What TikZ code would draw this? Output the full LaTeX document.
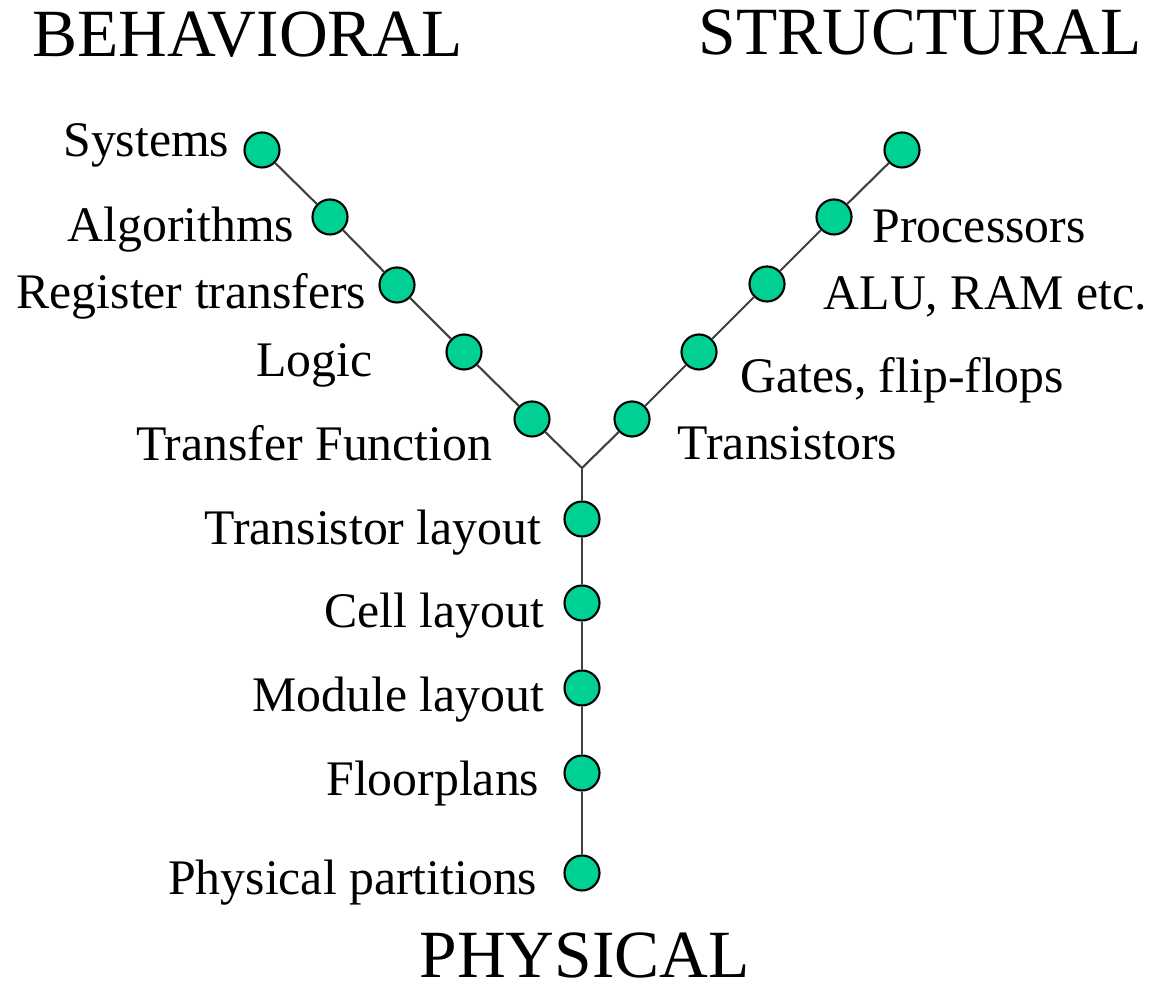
\documentclass[tikz,border=0pt]{standalone}
\usepackage{fontspec}
\setmainfont{Liberation Serif}
\definecolor{dotgreen}{RGB}{0,208,148}
\definecolor{stemgray}{RGB}{64,64,64}
\tikzset{
    dot/.style ={circle, minimum size=0.35cm, inner sep=0pt, draw=black, line width=0.6pt, fill=dotgreen},
    lab/.style ={inner sep=0pt, font=\fontsize{14.15}{16}\selectfont},
    axis/.style ={inner sep=0pt, font=\fontsize{19.2}{22}\selectfont},
    stem/.style ={draw=stemgray, line width=0.6pt}}

\begin{document}
\begin{tikzpicture}[x=0.01cm,y=-0.01cm]
        \useasboundingbox (0,0) rectangle (1151,986);
        % axis names
        \node[axis,anchor=base west] (beh) at (32,57) {BEHAVIORAL};
        \node[axis,anchor=base east] (str) at (1142,55) {STRUCTURAL};
        \node[axis,anchor=base west] (phy) at (419,978) {PHYSICAL};
        % where the three branches meet
        \coordinate (mid) at (582,468);
        % behavioral branch
        \node[dot] (b1) at (262,150) {};
        \node[dot] (b2) at (330,217) {};
        \node[dot] (b3) at (397,285) {};
        \node[dot] (b4) at (464,352) {};
        \node[dot] (b5) at (532,419) {};
        % structural branch
        \node[dot] (s1) at (902,150) {};
        \node[dot] (s2) at (834,217) {};
        \node[dot] (s3) at (767,284) {};
        \node[dot] (s4) at (699,352) {};
        \node[dot] (s5) at (632,419) {};
        % physical branch
        \node[dot] (p1) at (582,519) {};
        \node[dot] (p2) at (582,603) {};
        \node[dot] (p3) at (582,688) {};
        \node[dot] (p4) at (582,773) {};
        \node[dot] (p5) at (582,873) {};
        \draw[stem] (b1) -- (b2) -- (b3) -- (b4) -- (b5) -- (mid);
        \draw[stem] (s1) -- (s2) -- (s3) -- (s4) -- (s5) -- (mid);
        \draw[stem] (mid) -- (p1) -- (p2) -- (p3) -- (p4) -- (p5);
        % labels
        \node[lab,anchor=base east] (lb1) at (230,157) {Systems};
        \node[lab,anchor=base east] (lb2) at (295,242) {Algorithms};
        \node[lab,anchor=base east] (lb3) at (367,309) {Register transfers};
        \node[lab,anchor=base east] (lb4) at (373,377) {Logic};
        \node[lab,anchor=base east] (lb5) at (493,461) {Transfer Function};
        \node[lab,anchor=base west] (ls2) at (872,243) {Processors};
        \node[lab,anchor=base west] (ls3) at (823,310) {ALU, RAM etc.};
        \node[lab,anchor=base west] (ls4) at (740,393) {Gates, flip-flops};
        \node[lab,anchor=base west] (ls5) at (677,460) {Transistors};
        \node[lab,anchor=base east] (lp1) at (542,545) {Transistor layout};
        \node[lab,anchor=base east] (lp2) at (545,628) {Cell layout};
        \node[lab,anchor=base east] (lp3) at (545,712) {Module layout};
        \node[lab,anchor=base east] (lp4) at (540,796) {Floorplans};
        \node[lab,anchor=base east] (lp5) at (538,895) {Physical partitions};
    \end{tikzpicture}
\end{document}
